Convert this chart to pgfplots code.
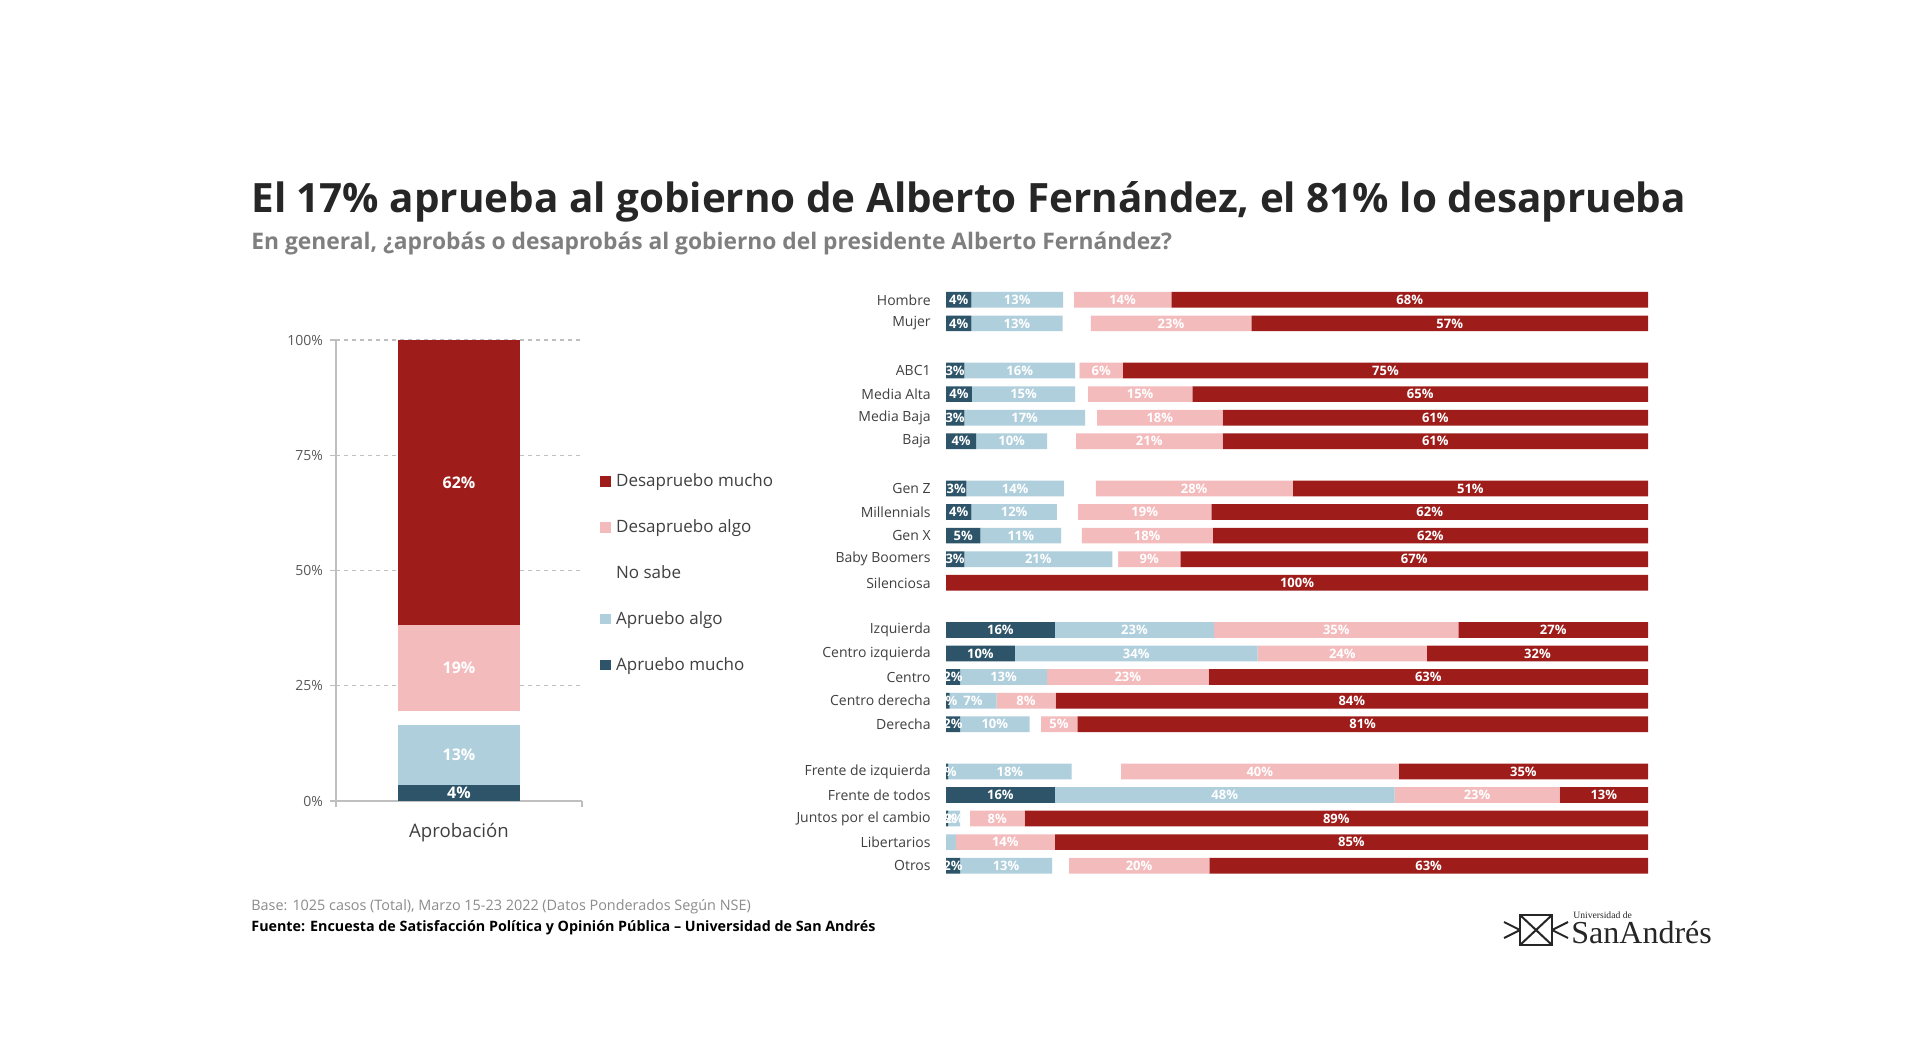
\documentclass[border=0pt]{standalone}
\usepackage{pgfplots}
\pgfplotsset{compat=1.18}
\usepackage{pgfplotstable}
\usepackage{fontspec}
\setmainfont{Open Sans}
\newfontfamily\logofont{Liberation Serif}
\definecolor{cRed}{HTML}{9E1C1A}
\definecolor{cPink}{HTML}{F4BBBD}
\definecolor{cLight}{HTML}{AFCFDC}
\definecolor{cDark}{HTML}{2D5468}
\definecolor{cTitle}{HTML}{262626}
\definecolor{cSub}{HTML}{7F7F7F}
\definecolor{cText}{HTML}{404040}
\definecolor{cTick}{HTML}{595959}
\definecolor{cAxis}{HTML}{BFBFBF}
\definecolor{cFoot}{HTML}{8C8C8C}

\pgfplotstableread{
x AM AA NS DA DM lAM lAA lDA lDM
0 3.4 13.1 3.0 18.7 61.8 4\% 13\% 19\% 62\%
}\datL

\pgfplotstableread{
row AM AA NS DA DM lAM lAA lDA lDM
0 3.6 13.1 1.5 13.9 67.9 4\% 13\% 14\% 68\%
1 3.6 13.0 4.0 22.9 56.5 4\% 13\% 23\% 57\%
3 2.6 15.8 0.6 6.2 74.8 3\% 16\% 6\% 75\%
4 3.7 14.7 1.8 14.9 64.9 4\% 15\% 15\% 65\%
5 2.6 17.2 1.7 17.9 60.6 3\% 17\% 18\% 61\%
6 4.3 10.1 4.1 20.9 60.6 4\% 10\% 21\% 61\%
8 2.9 13.9 4.5 28.1 50.6 3\% 14\% 28\% 51\%
9 3.6 12.2 3.0 19.0 62.2 4\% 12\% 19\% 62\%
10 4.9 11.5 2.9 18.7 62.0 5\% 11\% 18\% 62\%
11 2.6 21.1 0.8 8.9 66.6 3\% 21\% 9\% 67\%
12 0 0 0 0 100 {} {} {} 100\%
14 15.5 22.7 0 34.8 27.0 16\% 23\% 35\% 27\%
15 9.8 34.6 0 24.1 31.5 10\% 34\% 24\% 32\%
16 2.0 12.4 0 23.0 62.6 2\% 13\% 23\% 63\%
17 0.5 6.7 0 8.4 84.4 1\% 7\% 8\% 84\%
18 2.0 9.9 1.6 5.2 81.3 2\% 10\% 5\% 81\%
20 0.3 17.6 7.0 39.6 35.5 0\% 18\% 40\% 35\%
21 15.5 48.4 0 23.5 12.6 16\% 48\% 23\% 13\%
22 0.3 1.7 1.4 7.8 88.8 0\% 2\% 8\% 89\%
23 0 1.4 0 14.1 84.5 {} {} 14\% 85\%
24 2.0 13.1 2.4 20.0 62.5 2\% 13\% 20\% 63\%
}\datR

\begin{document}
\begin{tikzpicture}[x=0.5pt,y=-0.5pt]
\useasboundingbox (0,0) rectangle (1920,1054);
\fill[white] (0,0) rectangle (1920,1054);

\node[anchor=base west,inner sep=0pt,text=cTitle,font=\bfseries\fontsize{20.2}{24}\selectfont] at (251,212) {El 17\% aprueba al gobierno de Alberto Fernández, el 81\% lo desaprueba};
\node[anchor=base west,inner sep=0pt,text=cSub,font=\bfseries\fontsize{11.4}{13}\selectfont] at (251,249) {En general, ¿aprobás o desaprobás al gobierno del presidente Alberto Fernández?};

% ---------- left chart ----------
\begin{axis}[at={(168pt,-400.5pt)}, anchor=south west, scale only axis, width=123pt, height=230.5pt,
  ybar stacked, bar width=61pt, xmin=-1, xmax=1, ymin=0, ymax=100,
  axis x line*=bottom, axis y line*=left, axis line style={draw=cAxis, line width=0.7pt},
  xtick={-1,1}, xticklabels={}, ytick={0,25,50,75,100}, yticklabels={0\%,25\%,50\%,75\%,100\%},
  tick align=outside, major tick length=3pt, tick style={draw=cAxis, line width=0.7pt},
  ymajorgrids, grid style={dash pattern=on 2pt off 2pt, draw=cAxis, line width=0.7pt},
  yticklabel style={font=\fontsize{7}{8}\selectfont, text=cTick},
  xlabel={Aprobación}, xlabel style={font=\fontsize{9.3}{11}\selectfont, text=cText, at={(axis description cs:0.5,0)}, anchor=center, yshift=-16pt},
  reverse legend,
  legend image code/.code={\draw[#1,draw=none] (0pt,-2.6pt) rectangle (5.2pt,2.6pt);},
  legend style={at={(axis description cs:1.072,0.72)}, anchor=north west, draw=none, fill=none, inner sep=0pt,
    font=\fontsize{8.5}{10}\selectfont, text=cText, row sep=11pt, legend cell align=left,
    /tikz/every odd column/.append style={column sep=0.8pt}},
]
\addplot[fill=cDark, draw=none] table[x=x,y=AM]{\datL};
\addplot[fill=cLight, draw=none] table[x=x,y=AA]{\datL};
\addplot[fill=white, draw=none] table[x=x,y=NS]{\datL};
\addplot[fill=cPink, draw=none] table[x=x,y=DA]{\datL};
\addplot[fill=cRed, draw=none] table[x=x,y=DM]{\datL};
\legend{Apruebo mucho, Apruebo algo, No sabe, Desapruebo algo, Desapruebo mucho}
\end{axis}
\begin{axis}[at={(168pt,-400.5pt)}, anchor=south west, scale only axis, width=123pt, height=230.5pt,
  xmin=-1, xmax=1, ymin=0, ymax=100, hide axis, clip=false,
  every node near coord/.append style={font=\bfseries\fontsize{8}{9}\selectfont, text=white, anchor=center}]
\addplot[draw=none, nodes near coords, point meta=explicit symbolic] table[x=x, y expr=\thisrow{AM}/2, meta=lAM]{\datL};
\addplot[draw=none, nodes near coords, point meta=explicit symbolic] table[x=x, y expr=\thisrow{AM}+\thisrow{AA}/2, meta=lAA]{\datL};
\addplot[draw=none, nodes near coords, point meta=explicit symbolic] table[x=x, y expr=\thisrow{AM}+\thisrow{AA}+\thisrow{NS}+\thisrow{DA}/2, meta=lDA]{\datL};
\addplot[draw=none, nodes near coords, point meta=explicit symbolic] table[x=x, y expr=100-\thisrow{DM}/2, meta=lDM]{\datL};
\end{axis}

% ---------- right chart ----------
\begin{axis}[at={(473pt,-144pt)}, anchor=north west, scale only axis, width=351pt, height=294.75pt,
  xbar stacked, bar width=7.85pt, xmin=0, xmax=100, ymin=-0.5, ymax=24.5, y dir=reverse,
  axis line style={draw=none}, major tick length=0pt, xtick=\empty,
  ytick={0,1,3,4,5,6,8,9,10,11,12,14,15,16,17,18,20,21,22,23,24},
  yticklabels={Hombre,Mujer,ABC1,Media Alta,Media Baja,Baja,Gen Z,Millennials,Gen X,Baby Boomers,Silenciosa,Izquierda,Centro izquierda,Centro,Centro derecha,Derecha,Frente de izquierda,Frente de todos,Juntos por el cambio,Libertarios,Otros},
  yticklabel style={font=\fontsize{7}{8}\selectfont, text=cText, inner sep=0pt, xshift=-7.5pt},
]
\addplot[fill=cDark, draw=none] table[x=AM,y=row]{\datR};
\addplot[fill=cLight, draw=none] table[x=AA,y=row]{\datR};
\addplot[fill=white, draw=none] table[x=NS,y=row]{\datR};
\addplot[fill=cPink, draw=none] table[x=DA,y=row]{\datR};
\addplot[fill=cRed, draw=none] table[x=DM,y=row]{\datR};
\end{axis}
\begin{axis}[at={(473pt,-144pt)}, anchor=north west, scale only axis, width=351pt, height=294.75pt,
  xmin=0, xmax=100, ymin=-0.5, ymax=24.5, y dir=reverse, hide axis, clip=false,
  every node near coord/.append style={font=\bfseries\fontsize{6.5}{7}\selectfont, text=white, anchor=center, inner sep=0pt}]
\addplot[draw=none, nodes near coords, point meta=explicit symbolic] table[x expr=\thisrow{AM}/2, y=row, meta=lAM]{\datR};
\addplot[draw=none, nodes near coords, point meta=explicit symbolic] table[x expr=\thisrow{AM}+\thisrow{AA}/2, y=row, meta=lAA]{\datR};
\addplot[draw=none, nodes near coords, point meta=explicit symbolic] table[x expr=\thisrow{AM}+\thisrow{AA}+\thisrow{NS}+\thisrow{DA}/2, y=row, meta=lDA]{\datR};
\addplot[draw=none, nodes near coords, point meta=explicit symbolic] table[x expr=100-\thisrow{DM}/2, y=row, meta=lDM]{\datR};
\end{axis}

% ---------- footer ----------
\node[anchor=base west,inner sep=0pt,text=cFoot,font=\fontsize{7.2}{8}\selectfont] at (251,910) {Base: 1025 casos (Total), Marzo 15-23 2022 (Datos Ponderados Según NSE)};
\node[anchor=base west,inner sep=0pt,text=black,font=\bfseries\fontsize{7.15}{8}\selectfont] at (251,931) {Fuente: Encuesta de Satisfacción Política y Opinión Pública – Universidad de San Andrés};

% ---------- logo ----------
\begin{scope}[draw=cTitle, line width=1pt]
\draw (1520,915) rectangle (1552,945);
\draw (1520,915) -- (1552,945) (1552,915) -- (1520,945);
\draw (1504,922) -- (1520,930) (1504,938) -- (1520,930) (1568,922) -- (1552,930) (1568,938) -- (1552,930);
\end{scope}
\node[anchor=base west,inner sep=0pt,text=cTitle,font=\logofont\fontsize{4.8}{5}\selectfont] at (1573,918) {Universidad de};
\node[anchor=base west,inner sep=0pt,text=cTitle,font=\logofont\fontsize{16}{17}\selectfont] at (1571,943) {SanAndrés};
\end{tikzpicture}
\end{document}
